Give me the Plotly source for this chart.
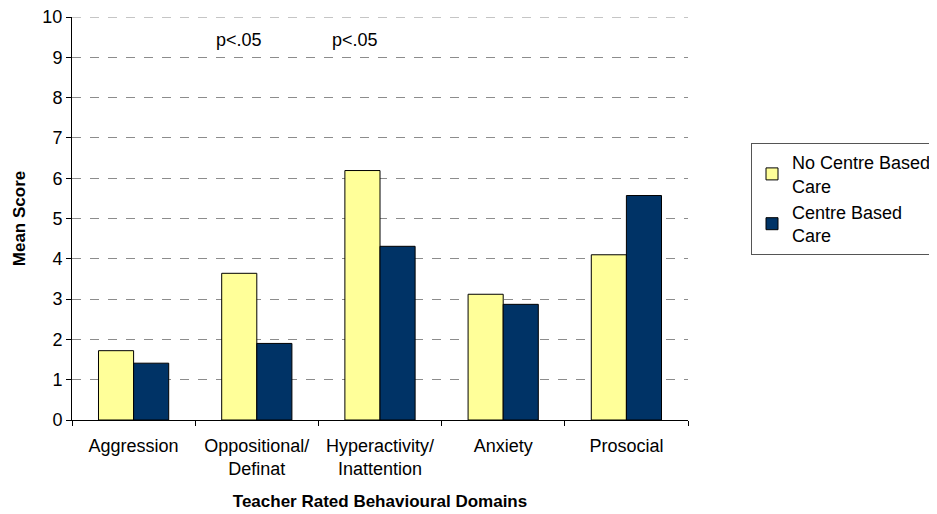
import plotly.graph_objects as go

categories = ["Aggression", "Oppositional/<br>Definat", "Hyperactivity/<br>Inattention", "Anxiety", "Prosocial"]
no_centre = [1.72, 3.64, 6.19, 3.12, 4.10]
centre = [1.41, 1.90, 4.31, 2.87, 5.57]
series_names = ["No Centre Based<br>Care", "Centre Based<br>Care"]
annotations_text = ["p<.05", "p<.05"]
annot_x = [1, 2]
annot_y = [9.43, 9.43]
annot_shift = [-18, -25]
y_max = 10

fig = go.Figure()
fig.add_trace(go.Bar(x=categories, y=no_centre, name=series_names[0],
                     marker=dict(color="#FFFF99", line=dict(color="black", width=1))))
fig.add_trace(go.Bar(x=categories, y=centre, name=series_names[1],
                     marker=dict(color="#003366", line=dict(color="black", width=1))))

for t, x, y, s in zip(annotations_text, annot_x, annot_y, annot_shift):
    fig.add_annotation(x=categories[x], y=y, text=t, showarrow=False, xshift=s,
                       font=dict(size=18, color="black"))

# top gridline at the plot edge
fig.add_shape(type="line", xref="paper", yref="y", x0=0, x1=1, y0=y_max, y1=y_max,
              line=dict(color="#8c8c8c", width=1, dash="dash"), layer="below")

# page has an 8px body margin, so the figure is sized/offset to compensate
W, H = 929, 506
L, T, R, B = 64, 9, 249, 94
plot_w = W - L - R
plot_h = H - T - B

font = "Liberation Sans, Arial, sans-serif"
fig.update_layout(
    width=W, height=H,
    margin=dict(l=L, r=R, t=T, b=B, autoexpand=False),
    plot_bgcolor="white", paper_bgcolor="white",
    font=dict(family=font, size=18, color="black"),
    barmode="group", bargap=0.43, bargroupgap=0,
    showlegend=True,
    legend=dict(x=(743 - L) / plot_w, y=(H - B - 135) / plot_h, xanchor="left", yanchor="top",
                bordercolor="#555555", borderwidth=1, bgcolor="white",
                font=dict(size=18), tracegroupgap=0, itemwidth=30),
    xaxis=dict(showline=True, linecolor="black", linewidth=1, automargin=False,
               ticks="outside", tickson="boundaries", ticklen=5, tickcolor="black",
               ticklabelstandoff=9,
               title=dict(text="<b>Teacher Rated Behavioural Domains</b>", font=dict(size=17), standoff=17),
               tickfont=dict(size=18)),
    yaxis=dict(range=[0, y_max], dtick=1, showline=True, linecolor="black", linewidth=1,
               automargin=False, ticklabeloverflow="allow",
               ticks="outside", ticklen=5, tickcolor="black",
               showgrid=True, gridcolor="#8c8c8c", griddash="dash", gridwidth=1,
               zeroline=False,
               title=dict(text="<b>Mean Score</b>", font=dict(size=17), standoff=12),
               tickfont=dict(size=18)),
)

fig.write_html("out.html")
